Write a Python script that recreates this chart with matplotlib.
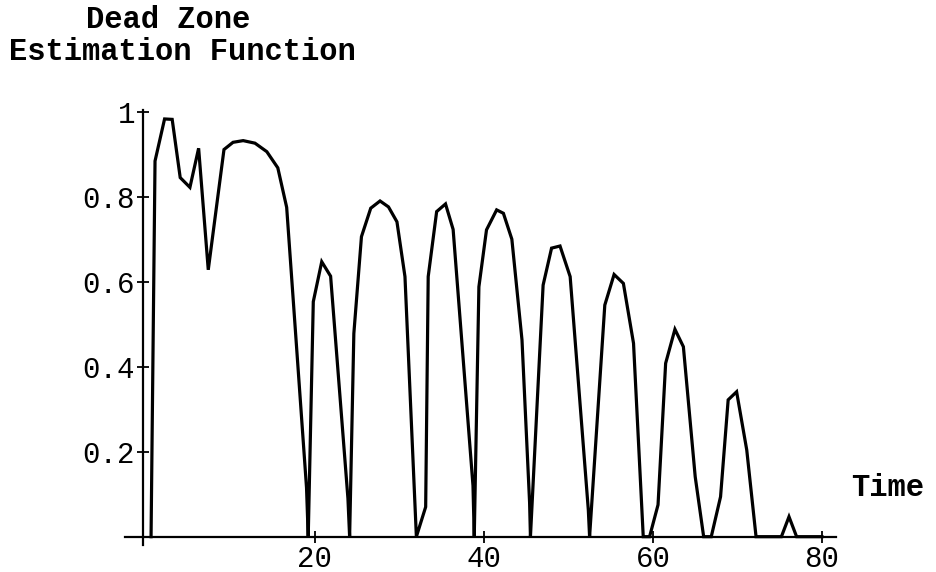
import matplotlib
matplotlib.use("Agg")
import matplotlib.pyplot as plt

# values (time, estimate)
time = [0.6, 1.07, 2.2, 3.1, 4.05, 5.2, 6.23, 7.37, 9.23, 10.3, 11.5, 12.9,
        14.3, 15.6, 16.65, 19.0, 19.2, 19.8, 20.8, 21.85, 23.9, 24.1, 24.6,
        25.5, 26.6, 27.7, 28.7, 29.7, 30.65, 32.0, 33.1, 33.4, 34.4, 35.45,
        36.35, 38.7, 38.85, 39.4, 40.3, 41.5, 42.3, 43.3, 44.5, 45.4, 45.5,
        47.0, 48.0, 49.0, 50.2, 52.35, 52.5, 54.3, 55.4, 56.5, 57.7, 58.85,
        59.6, 60.6, 61.5, 62.6, 63.6, 65.0, 66.0, 66.9, 68.0, 68.9, 69.9,
        71.1, 72.2, 75.2, 76.1, 77.0, 80.0]
estimate = [0.0, 0.884, 0.983, 0.982, 0.845, 0.822, 0.914, 0.628, 0.911,
            0.928, 0.932, 0.926, 0.906, 0.868, 0.775, 0.115, 0.0, 0.553,
            0.647, 0.613, 0.09, 0.0, 0.478, 0.706, 0.773, 0.79, 0.776, 0.741,
            0.612, 0.0, 0.07, 0.612, 0.765, 0.783, 0.723, 0.12, 0.0, 0.588,
            0.722, 0.769, 0.761, 0.70, 0.463, 0.08, 0.0, 0.592, 0.679, 0.684,
            0.612, 0.063, 0.0, 0.545, 0.617, 0.596, 0.455, 0.0, 0.0, 0.075,
            0.408, 0.488, 0.447, 0.141, 0.0, 0.0, 0.094, 0.322, 0.341, 0.204,
            0.0, 0.0, 0.047, 0.0, 0.0]

x_ticks = [20, 40, 60, 80]
y_ticks = [0.2, 0.4, 0.6, 0.8, 1.0]
y_tick_labels = ["0.2", "0.4", "0.6", "0.8", "1"]

mono = "Liberation Mono"

fig = plt.figure(figsize=(9.36, 5.72), dpi=100)
ax = fig.add_axes([0.1334, 0.0469, 0.7601, 0.760])

ax.plot(time, estimate, color="black", lw=2.3, solid_joinstyle="miter")

ax.set_xlim(-2.5, 81.7)
ax.set_ylim(-0.02, 1.003)

for side in ["top", "right"]:
    ax.spines[side].set_visible(False)
ax.spines["left"].set_position(("data", -0.3))
ax.spines["bottom"].set_position(("data", 0))
for side in ["left", "bottom"]:
    ax.spines[side].set_linewidth(1.6)

ax.set_xticks(x_ticks)
ax.set_xticklabels([str(t) for t in x_ticks], fontfamily=mono)
ax.set_yticks(y_ticks)
ax.set_yticklabels(y_tick_labels, fontfamily=mono)
ax.tick_params(direction="inout", length=8, width=1.3, labelsize=21, pad=2)

fig.text(168 / 936, 1 - 20 / 572, "Dead Zone", ha="center", va="center",
         fontsize=22, fontweight="bold", fontfamily=mono)
fig.text(182 / 936, 1 - 52 / 572, "Estimation Function", ha="center",
         va="center", fontsize=22, fontweight="bold", fontfamily=mono)
fig.text(888 / 936, 1 - 488 / 572, "Time", ha="center", va="center",
         fontsize=22, fontweight="bold", fontfamily=mono)

fig.savefig("out.png", dpi=100)
